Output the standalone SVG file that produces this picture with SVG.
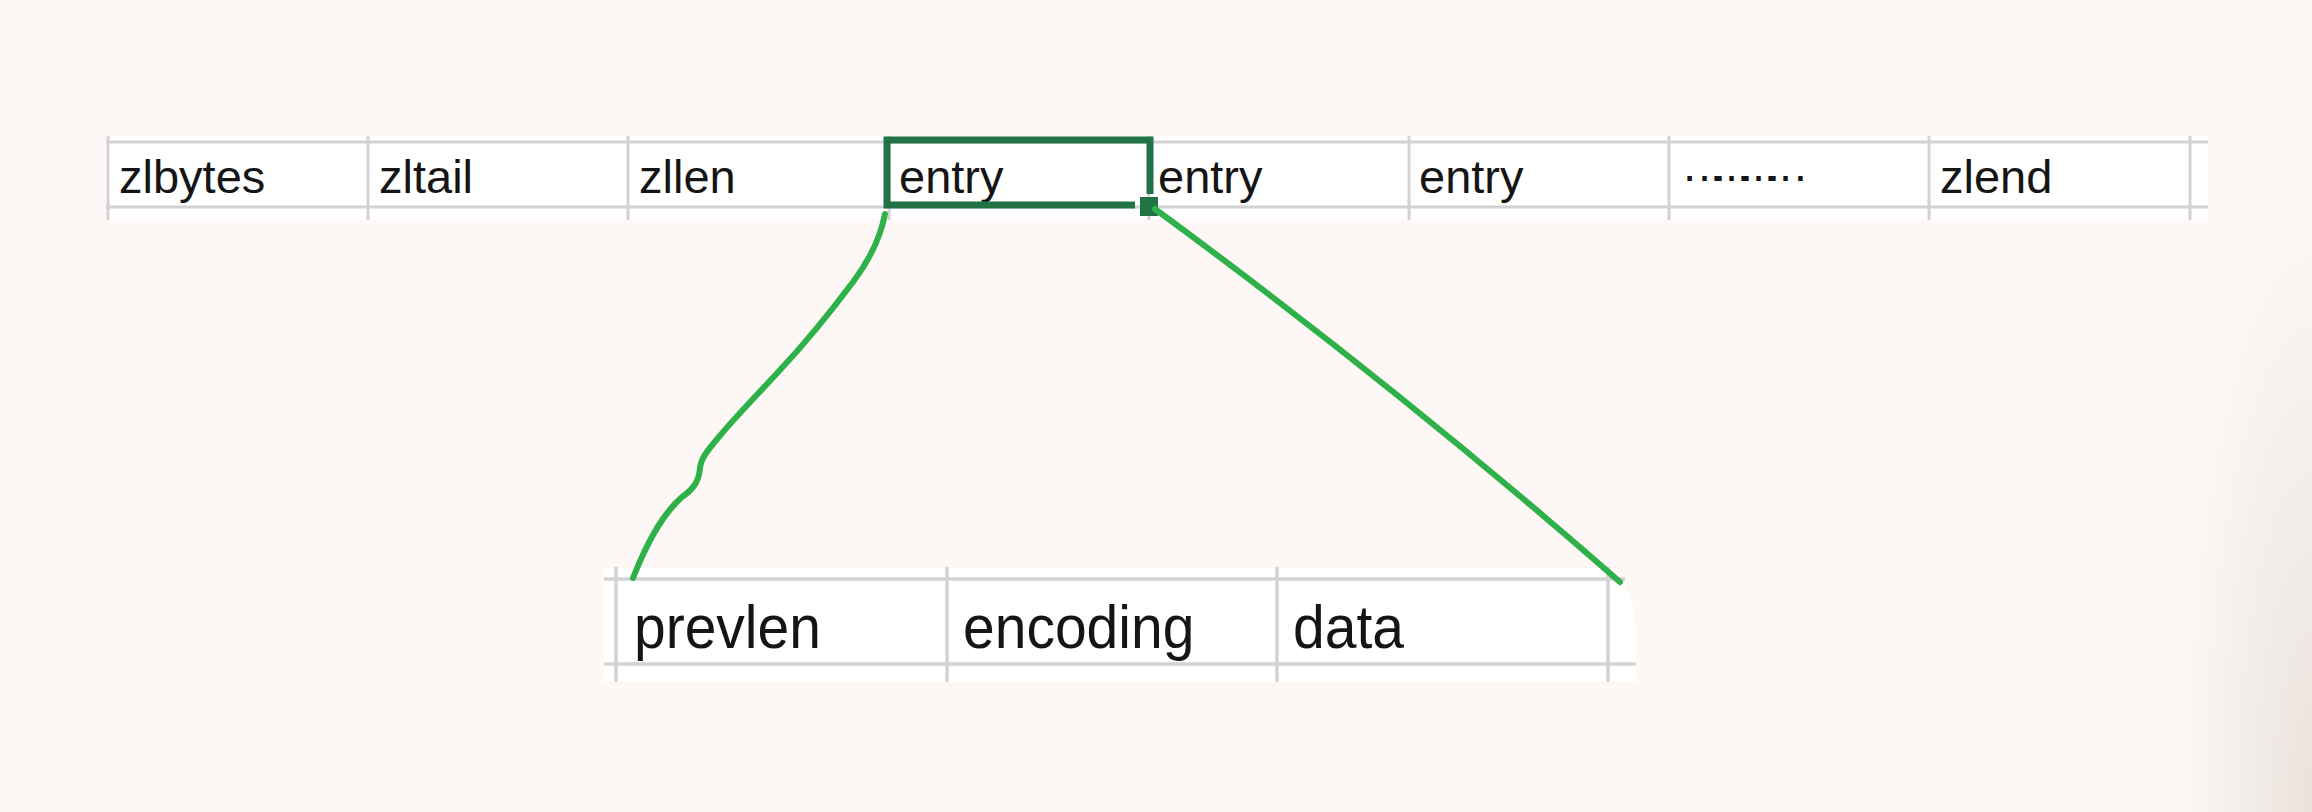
<svg xmlns="http://www.w3.org/2000/svg" width="2312" height="812" viewBox="0 0 2312 812">
  <defs>
    <radialGradient id="shadow" gradientUnits="userSpaceOnUse" cx="2312" cy="812" r="620" gradientTransform="translate(2312,812) scale(0.22,1) translate(-2312,-812)">
      <stop offset="0" stop-color="#e6ded8" stop-opacity="0.85"/>
      <stop offset="1" stop-color="#e6ded8" stop-opacity="0"/>
    </radialGradient>
  </defs>
  <style>
    .grid { stroke: #d2d2d2; stroke-width: 3; fill: none; }
    .grid2 { stroke: #d2d2d2; stroke-width: 3.5; fill: none; }
    .cell { font-family: "Liberation Sans", Arial, sans-serif; font-size: 47px; fill: #151515; }
    .cell2 { font-family: "Liberation Sans", Arial, sans-serif; font-size: 57px; fill: #151515; }
    .sel { stroke: #217346; stroke-width: 7; fill: none; stroke-linejoin: miter; }
    .link { stroke: #2fb14a; stroke-width: 6; fill: none; stroke-linecap: round; stroke-linejoin: round; }
  </style>

  <rect x="0" y="0" width="2312" height="812" fill="#fdf8f5"/>
  <rect x="2100" y="0" width="212" height="812" fill="url(#shadow)"/>

  <!-- top table (ziplist) -->
  <g id="ziplist-grid">
    <rect x="106" y="136" width="2102" height="84" fill="#ffffff"/>
    <line class="grid" x1="106" y1="142" x2="2208" y2="142"/>
    <line class="grid" x1="106" y1="207" x2="2208" y2="207"/>
    <line class="grid" x1="108" y1="136" x2="108" y2="220"/>
    <line class="grid" x1="368" y1="136" x2="368" y2="220"/>
    <line class="grid" x1="628" y1="136" x2="628" y2="220"/>
    <line class="grid" x1="889" y1="136" x2="889" y2="220"/>
    <line class="grid" x1="1149" y1="136" x2="1149" y2="220"/>
    <line class="grid" x1="1409" y1="136" x2="1409" y2="220"/>
    <line class="grid" x1="1669" y1="136" x2="1669" y2="220"/>
    <line class="grid" x1="1929" y1="136" x2="1929" y2="220"/>
    <line class="grid" x1="2190" y1="136" x2="2190" y2="220"/>
  </g>

  <g id="zlbytes"><text class="cell" x="119" y="193">zlbytes</text></g>
  <g id="zltail"><text class="cell" x="379" y="193">zltail</text></g>
  <g id="zllen"><text class="cell" x="639" y="193">zllen</text></g>
  <g id="entry-1">
    <text class="cell" x="899" y="193">entry</text>
    <path class="sel" d="M1150,194 V140 H887 V205 H1135"/>
    <rect x="1140" y="197" width="18" height="19" fill="#217346"/>
  </g>
  <g id="entry-2"><text class="cell" x="1158" y="193">entry</text></g>
  <g id="entry-3"><text class="cell" x="1419" y="193">entry</text></g>
  <g id="ellipsis"><text class="cell" x="1681" y="181" font-size="36" textLength="128" lengthAdjust="spacing">…………</text></g>
  <g id="zlend"><text class="cell" x="1940" y="193">zlend</text></g>

  <!-- bottom table (entry detail) -->
  <g id="entry-grid">
    <path d="M604,568 H1612 Q1636,590 1636,640 V682 H604 Z" fill="#ffffff"/>
    <line class="grid2" x1="604" y1="579" x2="1625" y2="579"/>
    <line class="grid2" x1="604" y1="664" x2="1636" y2="664"/>
    <line class="grid2" x1="616" y1="567" x2="616" y2="682"/>
    <line class="grid2" x1="947" y1="567" x2="947" y2="682"/>
    <line class="grid2" x1="1277" y1="567" x2="1277" y2="682"/>
    <line class="grid2" x1="1608" y1="567" x2="1608" y2="682"/>
  </g>
  <g id="prevlen"><text class="cell2" transform="translate(634,648) scale(1,1.08)">prevlen</text></g>
  <g id="encoding"><text class="cell2" transform="translate(963,648) scale(1,1.08)">encoding</text></g>
  <g id="data"><text class="cell2" transform="translate(1293,648) scale(1,1.08)">data</text></g>

  <!-- connectors -->
  <g id="connectors">
    <path class="link" d="M885,214 C880,240 868,262 853,282 C838,302 810,338 780,370 C760,392 738,414 718,438 C708,450 701,458 700,468 C699,480 695,488 682,497 C665,512 650,535 633,578"/>
    <path class="link" d="M1155,209 Q1395,385 1620,582"/>
  </g>
</svg>
